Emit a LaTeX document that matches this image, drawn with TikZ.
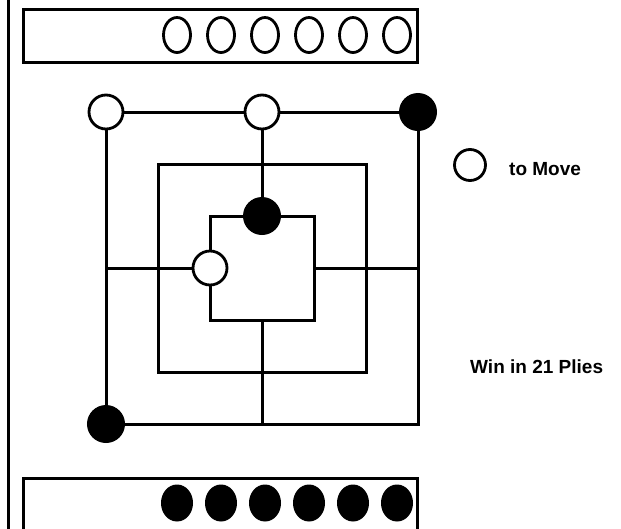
\documentclass[tikz,border=0pt]{standalone}
\usepackage{fontspec}
\setmainfont{Liberation Sans}
\usetikzlibrary{shapes.geometric}
\begin{document}
\begin{tikzpicture}[x=1pt,y=-1pt,
  boardline/.style={line width=3pt},
  boxline/.style={line width=3pt},
  wpiece/.style={circle,draw,line width=2.8pt,fill=white,minimum size=34pt,inner sep=0pt},
  bpiece/.style={circle,draw,line width=2pt,fill=black,minimum size=36pt,inner sep=0pt},
  wres/.style={ellipse,draw,line width=2.8pt,fill=white,minimum width=27pt,minimum height=35pt,inner sep=0pt},
  bres/.style={ellipse,draw,line width=1pt,fill=black,minimum width=31pt,minimum height=36pt,inner sep=0pt},
  lbl/.style={font=\bfseries\fontsize{19}{22}\selectfont,inner sep=0pt,anchor=west}]
\useasboundingbox (0,0) rectangle (621,528);
\clip (0,0) rectangle (621,528);
\fill[white] (0,0) rectangle (621,528);
% left rule
\coordinate (rt) at (8,-2);
\coordinate (rb) at (8,530);
\draw[line width=3pt] (rt) -- (rb);
% reserve boxes
\draw[boxline] (23,9) rectangle (417,62);
\draw[boxline] (23,478) rectangle (417,531);
\foreach \i/\x in {1/177,2/221,3/265,4/309,5/353,6/397}{
  \node[wres] (w\i) at (\x,35) {};
  \node[bres] (b\i) at (\x,503) {};
}
% board
\coordinate (oTL) at (106,112); \coordinate (oT) at (262,112); \coordinate (oTR) at (418,112);
\coordinate (oL) at (106,268); \coordinate (oR) at (418,268);
\coordinate (oBL) at (106,424); \coordinate (oB) at (262,424); \coordinate (oBR) at (418,424);
\coordinate (mTL) at (158,164); \coordinate (mBR) at (366,372);
\coordinate (iTL) at (210,216); \coordinate (iBR) at (314,320);
\coordinate (iT) at (262,216); \coordinate (iB) at (262,320);
\coordinate (iL) at (210,268); \coordinate (iR) at (314,268);
\draw[boardline] (oTL) rectangle (oBR);
\draw[boardline] (mTL) rectangle (mBR);
\draw[boardline] (iTL) rectangle (iBR);
\draw[boardline] (oT) -- (iT);
\draw[boardline] (iB) -- (oB);
\draw[boardline] (oL) -- (iL);
\draw[boardline] (iR) -- (oR);
% pieces
\node[wpiece] (p1) at (oTL) {};
\node[wpiece] (p2) at (oT) {};
\node[bpiece] (p3) at (oTR) {};
\node[bpiece] (p4) at (iT) {};
\node[wpiece] (p5) at (iL) {};
\node[bpiece] (p6) at (oBL) {};
% side info
\node[wpiece,minimum size=31pt] (tomove) at (470,165) {};
\node[lbl] (tm) at (509,169) {to Move};
\node[lbl] (win) at (470,367) {Win in 21 Plies};
\end{tikzpicture}
\end{document}
